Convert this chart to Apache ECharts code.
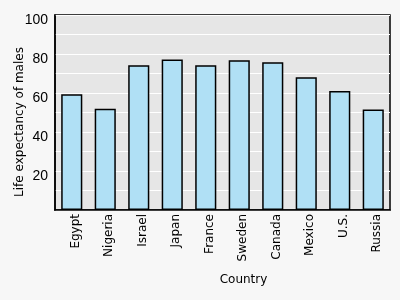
<!DOCTYPE html>
<html><head><meta charset="utf-8">
<script src="https://cdn.jsdelivr.net/npm/echarts@6/dist/echarts.min.js"></script>
<style>html,body{margin:0;padding:0;background:#f7f7f7;}#c{width:400px;height:300px;}</style>
</head><body><div id="c"></div>
<script>
const countries = ['Egypt','Nigeria','Israel','Japan','France','Sweden','Canada','Mexico','U.S.','Russia'];
const lifeExpectancy = [59.4, 51.9, 74.2, 77.2, 74.2, 76.8, 75.8, 68.1, 61.0, 51.6];
const yTickLabels = [20, 40, 60, 80, 100];

const chart = echarts.init(document.getElementById('c'), null, {renderer:'canvas'});
chart.setOption({
  backgroundColor: '#f7f7f7',
  animation: false,
  grid: {left:55, right:10, top:15, bottom:90, containLabel:false, outerBoundsMode:'none',
    show:true, backgroundColor:'#e6e6e6', borderColor:'#000', borderWidth:1.5},
  xAxis: {
    type:'category', data: countries,
    name:'Country', nameLocation:'middle', nameGap:64, nameMoveOverlap:false,
    nameTextStyle:{fontFamily:'DejaVu Sans', fontSize:12, color:'#000', padding:[0,0,0,42]},
    axisLine:{lineStyle:{color:'#000', width:1.5}},
    axisTick:{show:false},
    axisLabel:{rotate:90, fontFamily:'DejaVu Sans', fontSize:12, color:'#000', margin:4,
      verticalAlign:'top', lineHeight:8}
  },
  yAxis: {
    type:'value', min:0, max:100, interval:10,
    name:'Life expectancy of males', nameLocation:'middle', nameGap:29, nameMoveOverlap:false,
    nameTextStyle:{fontFamily:'DejaVu Sans', fontSize:12, color:'#000', padding:[0,0,0,-19]},
    axisLine:{show:true, lineStyle:{color:'#000', width:1.5}},
    axisTick:{show:false},
    splitLine:{show:true, lineStyle:{color:'#fff', width:1}},
    axisLabel:{fontFamily:'Liberation Sans', fontSize:14, color:'#000', margin:7,
      verticalAlign:'top', lineHeight:11,
      formatter: v => yTickLabels.includes(v) ? String(v) : ''}
  },
  series: [{
    type:'bar', data: lifeExpectancy, barWidth:'63%',
    itemStyle:{color:'#b0e0f5', borderColor:'#000', borderWidth:1.5}
  }]
});
</script></body></html>
